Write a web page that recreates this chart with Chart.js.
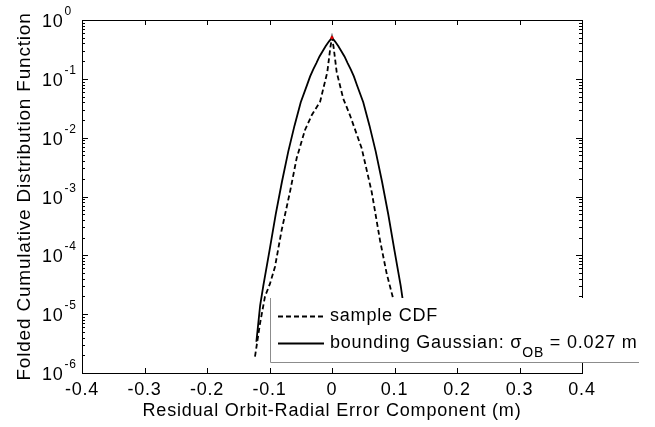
<!DOCTYPE html>
<html>
<head>
<meta charset="utf-8">
<script src="https://cdn.jsdelivr.net/npm/chart.js@4/dist/chart.umd.min.js"></script>
<style>
  html, body { margin: 0; padding: 0; background: #fff; }
</style>
</head>
<body>
<canvas id="chart" width="655" height="427"></canvas>
<script>
// sample CDF (dashed)
const sampleX = [-0.1232, -0.1152, -0.1072, -0.0992, -0.0912, -0.0805, -0.0672, -0.0565, -0.0432, -0.0325, -0.019, -0.0075, -0.0025, 0,
                 0.0025, 0.0075, 0.018, 0.0288, 0.0475, 0.0635, 0.0768, 0.0875, 0.097, 0.105, 0.11];
const sampleY = [1.9e-6, 6.9e-6, 2.0e-5, 3.3e-5, 6.4e-5, 2.7e-4, 1.2e-3, 4.5e-3, 1.35e-2, 2.4e-2, 4.1e-2, 0.13, 0.35, 0.5,
                 0.35, 0.13, 0.046, 0.024, 6.6e-3, 1.2e-3, 1.8e-4, 4.9e-5, 2.0e-5, 5.0e-6, 2.0e-6];

// bounding Gaussian (solid)
const gaussX = [-0.121, -0.115, -0.11, -0.1, -0.09, -0.08, -0.07, -0.06, -0.05, -0.04, -0.035, -0.03, -0.025, -0.02, -0.015, -0.01, -0.005, 0,
                0.005, 0.01, 0.015, 0.02, 0.025, 0.03, 0.035, 0.04, 0.05, 0.06, 0.07, 0.08, 0.09, 0.1, 0.11, 0.12, 0.126];
const gaussY = [3.4e-6, 1.4e-5, 3.0e-5, 1.2e-4, 5.0e-4, 1.8e-3, 5.8e-3, 1.6e-2, 4.0e-2, 7.8e-2, 0.11, 0.145, 0.185, 0.24, 0.295, 0.36, 0.43, 0.5,
                0.43, 0.36, 0.295, 0.24, 0.185, 0.145, 0.11, 7.8e-2, 0.04, 0.016, 5.8e-3, 1.8e-3, 5.0e-4, 1.2e-4, 3.0e-5, 5.5e-6, 2.0e-6];

const peakX = [0];
const peakY = [0.5];

const xTicks = [-0.4, -0.3, -0.2, -0.1, 0, 0.1, 0.2, 0.3, 0.4];
const yTicks = [1e-6, 1e-5, 1e-4, 1e-3, 1e-2, 1e-1, 1];
const yTickExps = ['-6', '-5', '-4', '-3', '-2', '-1', '0'];

const seriesLabels = ['sample CDF', 'bounding Gaussian: σOB = 0.027 m'];
// legend text pieces: [text, isSubscript]
const legendParts = [
  [['sample CDF', 0]],
  [['bounding Gaussian: σ', 0], ['OB', 1], [' = 0.027 m', 0]]
];
const xTitle = 'Residual Orbit-Radial Error Component (m)';
const yTitle = 'Folded Cumulative Distribution Function';

const FONT = "'Liberation Sans', Arial, Helvetica, sans-serif";
const toPoints = (xs, ys) => xs.map((v, i) => ({ x: v, y: ys[i] }));

const matlabAxes = {
  id: 'matlabAxes',
  beforeDraw(chart) {
    chart.ctx.letterSpacing = '0.8px';
  },
  afterDatasetsDraw(chart) {
    const { ctx, chartArea: a, scales: { x, y } } = chart;
    ctx.save();

    // box + inward ticks
    ctx.strokeStyle = '#000';
    ctx.lineWidth = 1;
    ctx.beginPath();
    xTicks.forEach(v => {
      const px = Math.round(x.getPixelForValue(v)) + 0.5;
      ctx.moveTo(px, a.bottom); ctx.lineTo(px, a.bottom - 5);
      ctx.moveTo(px, a.top); ctx.lineTo(px, a.top + 5);
    });
    yTicks.forEach((v, i) => {
      for (let m = 1; m <= 9; m++) {
        if (i === yTicks.length - 1 && m > 1) break;
        const py = Math.round(y.getPixelForValue(v * m)) + 0.5;
        const len = m === 1 ? 6 : 3;
        ctx.moveTo(a.left, py); ctx.lineTo(a.left + len, py);
        ctx.moveTo(a.right, py); ctx.lineTo(a.right - len, py);
      }
    });
    ctx.stroke();
    ctx.strokeRect(Math.round(a.left) + 0.5, Math.round(a.top) + 0.5,
                   Math.round(a.right - a.left), Math.round(a.bottom - a.top));

    // legend box (covers the lower right of the plot)
    ctx.fillStyle = '#fff';
    ctx.fillRect(270, 298, 369, 65);
    ctx.strokeStyle = '#8c8c8c';
    ctx.beginPath();
    ctx.moveTo(270.5, 298); ctx.lineTo(270.5, 362.5); ctx.lineTo(639, 362.5);
    ctx.stroke();

    const rows = [316.5, 343.5];
    const ds = chart.data.datasets;
    legendParts.forEach((parts, i) => {
      const d = ds[i + 1];
      ctx.strokeStyle = d.borderColor;
      ctx.lineWidth = d.borderWidth;
      ctx.setLineDash(d.borderDash || []);
      ctx.beginPath();
      ctx.moveTo(278, rows[i]); ctx.lineTo(324, rows[i]);
      ctx.stroke();
      ctx.setLineDash([]);

      ctx.fillStyle = '#000';
      ctx.textAlign = 'left';
      ctx.textBaseline = 'alphabetic';
      let tx = 330;
      parts.forEach(([t, sub]) => {
        ctx.font = (sub ? '14px ' : '18px ') + FONT;
        ctx.fillText(t, tx, rows[i] + 4 + (sub ? 9 : 0));
        tx += ctx.measureText(t).width;
      });
    });
    ctx.restore();
  },
  afterDraw(chart) {
    const { ctx, scales: { y } } = chart;
    ctx.save();
    ctx.fillStyle = '#000';
    ctx.textBaseline = 'alphabetic';
    yTicks.forEach((v, i) => {
      const py = y.getPixelForValue(v);
      ctx.font = '18px ' + FONT;
      ctx.textAlign = 'right';
      ctx.fillText('10', 63.5, py + 7);
      ctx.font = '12px ' + FONT;
      ctx.textAlign = 'left';
      ctx.fillText(yTickExps[i], 64.5, py - 5);
    });
    ctx.restore();
  }
};

new Chart(document.getElementById('chart').getContext('2d'), {
  type: 'scatter',
  data: {
    datasets: [
      {
        label: 'peak',
        data: toPoints(peakX, peakY),
        pointRadius: 1.6,
        pointBackgroundColor: '#e00000',
        pointBorderWidth: 0,
        showLine: false
      },
      {
        label: seriesLabels[0],
        data: toPoints(sampleX, sampleY),
        borderColor: '#000',
        borderWidth: 1.8,
        borderDash: [5, 3],
        pointRadius: 0,
        showLine: true,
        tension: 0
      },
      {
        label: seriesLabels[1],
        data: toPoints(gaussX, gaussY),
        borderColor: '#000',
        borderWidth: 1.8,
        pointRadius: 0,
        showLine: true,
        tension: 0
      }
    ]
  },
  options: {
    responsive: false,
    animation: false,
    devicePixelRatio: 1,
    layout: { padding: { top: 20, right: 73, left: 0, bottom: 0 } },
    plugins: { legend: { display: false }, tooltip: { enabled: false } },
    scales: {
      x: {
        type: 'linear',
        min: -0.4,
        max: 0.4,
        grid: { display: false, drawTicks: false },
        border: { display: false },
        afterBuildTicks: s => { s.ticks = xTicks.map(v => ({ value: v })); },
        afterFit: s => { s.height = 54; },
        ticks: {
          color: '#000',
          font: { family: FONT, size: 18 },
          padding: 6,
          maxRotation: 0,
          autoSkip: false,
          callback: v => String(v)
        },
        title: {
          display: true,
          text: xTitle,
          color: '#000',
          font: { family: FONT, size: 18 },
          padding: { top: 0, bottom: 5 }
        }
      },
      y: {
        type: 'logarithmic',
        min: 1e-6,
        max: 1,
        grid: { display: false, drawTicks: false },
        border: { display: false },
        afterBuildTicks: s => { s.ticks = yTicks.map(v => ({ value: v })); },
        afterFit: s => { s.width = 82; },
        ticks: { display: false },
        title: {
          display: true,
          text: yTitle,
          color: '#000',
          font: { family: FONT, size: 19 },
          padding: { top: 13, bottom: 0 }
        }
      }
    }
  },
  plugins: [matlabAxes]
});
</script>
</body>
</html>
